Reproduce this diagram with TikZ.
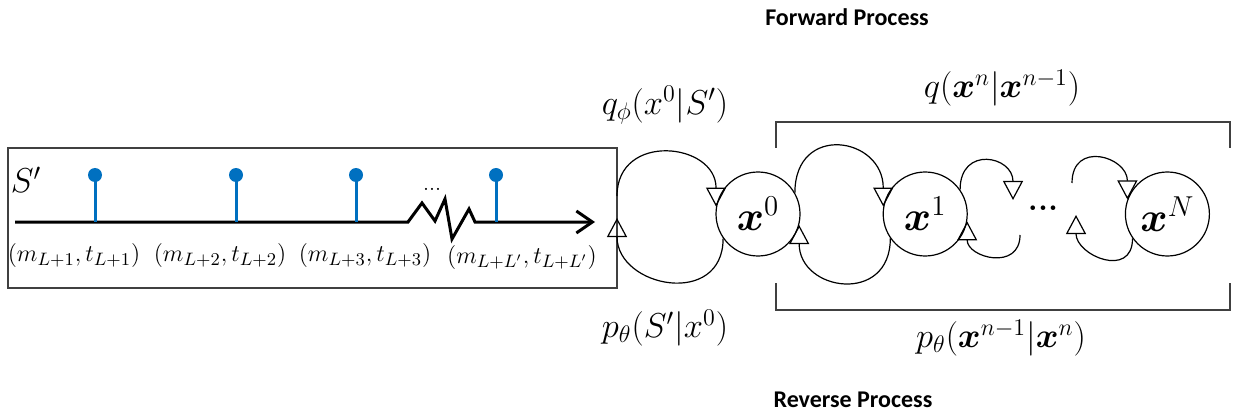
\documentclass[tikz,border=0pt]{standalone}
\usepackage{fontspec}
\usepackage{bm}
\newfontfamily\titlefont{Carlito}
\usetikzlibrary{arrows.meta, positioning}

\definecolor{stemblue}{RGB}{0,112,192}

\begin{document}
\begin{tikzpicture}[
    x=0.5pt, y=0.5pt,
    every node/.style={inner sep=1pt},
    state/.style={
        draw,
        circle,
        minimum size=42pt,
        inner sep=0pt,
        line width=0.6pt,
        font=\fontsize{22}{24}\selectfont
    },
    mathlabel/.style={font=\fontsize{17}{20}\selectfont},
    ticklabel/.style={font=\fontsize{12.5}{14}\selectfont},
    title/.style={font=\titlefont\bfseries\fontsize{12}{14}\selectfont},
    dot/.style={circle, fill=stemblue, minimum size=7pt, inner sep=0pt},
    stem/.style={stemblue, line width=1.5pt},
    fwd/.style={-{Triangle[open, length=9.5pt, width=10pt]}, line width=0.6pt},
    bracket/.style={line width=0.8pt, black!75}
]
\useasboundingbox (0,0) rectangle (1235,418);

% ------------------------
% Event sequence (left)
% ------------------------
\node[draw, line width=0.9pt, black!75, minimum width=304.5pt,
  minimum height=70pt, inner sep=0pt] (seq) at (312.5,200) {};
\node[font=\fontsize{18}{20}\selectfont] (slab) at (26,238) {$S'$};

\coordinate (ax0) at (15,196);
\coordinate (ax1) at (595,196);
\draw[line width=1.5pt, -{Straight Barb[length=8pt, width=11pt]}]
  (ax0) -- (408,196) -- (422,215) -- (435,197) -- (445,219)
  -- (452,179) -- (469,209) -- (475,196) -- (ax1);
\node[font=\fontsize{11}{12}\selectfont] (skip) at (432,229) {...};

\foreach \i/\x in {1/95, 2/236, 3/356, 4/496} {
  \draw[stem] (\x,243) -- (\x,196);
  \node[dot] (e\i) at (\x,243) {};
}

\node[ticklabel] (l1) at (74,163) {$(m_{L+1},t_{L+1})$};
\node[ticklabel] (l2) at (220,163) {$(m_{L+2},t_{L+2})$};
\node[ticklabel] (l3) at (365,163) {$(m_{L+3},t_{L+3})$};
\node[ticklabel] (l4) at (522,161) {$(m_{L+L'},t_{L+L'})$};

% ------------------------
% Latent chain (right)
% ------------------------
\node[state] (x0) at (758,204) {$\bm{x}^0$};
\node[state, right=41pt of x0] (x1) {$\bm{x}^1$};
\node[state, right=78.5pt of x1] (xN) {$\bm{x}^N$};
\node[font=\fontsize{16}{18}\selectfont\bfseries] (gap) at (1043,210) {...};

\coordinate (s1) at (617,222);
\coordinate (s2) at (617,200);
\coordinate (d3a) at (1013,218);
\coordinate (d3b) at (1020,183);
\coordinate (d4a) at (1072,235);
\coordinate (d4b) at (1076,203);

% ------------------------
% Arrows
% ------------------------
\draw[fwd] (s1) to[out=90, in=90, looseness=1.65] (x0.170);
\draw[fwd] (x0.215) to[out=-90, in=-90, looseness=1.65] (s2);

\draw[fwd] (x0.30) to[out=90, in=90, looseness=2.0] (x1.170);
\draw[fwd] (x1.215) to[out=-90, in=-90, looseness=1.85] (x0.-15);

\draw[fwd] (x1.35) to[out=90, in=90, looseness=2.1] (d3a);
\draw[fwd] (d3b) to[out=-90, in=-90, looseness=1.7] (x1.-10);

\draw[fwd] (d4a) to[out=90, in=90, looseness=1.9] (xN.160);
\draw[fwd] (xN.215) to[out=-90, in=-90, looseness=1.7] (d4b);

% ------------------------
% Brackets and labels
% ------------------------
\draw[bracket] (776,270) |- (1230,296) -- (1230,270);
\draw[bracket] (776,135) |- (1230,108) -- (1230,135);

\node[mathlabel] (qphi) at (665,313) {$q_\phi(x^0|S')$};
\node[mathlabel] (pphi) at (665,90) {$p_\theta(S'|x^0)$};
\node[mathlabel] (qn) at (1002,330) {$q(\bm{x}^n|\bm{x}^{n-1})$};
\node[mathlabel] (pn) at (1001,80) {$p_\theta(\bm{x}^{n-1}|\bm{x}^n)$};

\node[title] (fwdtitle) at (847,401) {Forward Process};
\node[title] (revtitle) at (853,18) {Reverse Process};

\end{tikzpicture}
\end{document}
